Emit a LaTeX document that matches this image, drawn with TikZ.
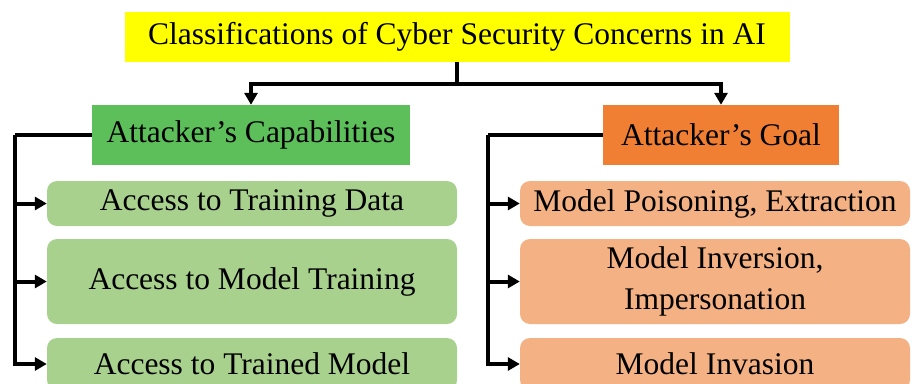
\documentclass[tikz,border=0pt]{standalone}
\usepackage{fontspec}
\setmainfont{Liberation Serif}
\usetikzlibrary{arrows.meta}
\definecolor{ttlY}{HTML}{FFFF00}
\definecolor{capG}{HTML}{5CBF5A}
\definecolor{subG}{HTML}{A9D18E}
\definecolor{goalO}{HTML}{F07F34}
\definecolor{subO}{HTML}{F4B183}
\tikzset{
  boxbase/.style={inner sep=0pt, align=center, font=\fontsize{31.5}{41}\selectfont, text=black},
  hdr/.style={boxbase, rectangle, minimum height=60pt},
  subbox/.style={boxbase, rectangle, rounded corners=10pt},
  conn/.style={line width=4pt, draw=black},
  arr/.style={conn, -{Triangle[length=12pt,width=13pt]}}
}
\begin{document}
\begin{tikzpicture}[x=1pt,y=-1pt]
\useasboundingbox (0,0) rectangle (912,383);
\node[boxbase, fill=ttlY, minimum width=665pt, minimum height=50pt] (title) at (457,37) {Classifications of Cyber Security Concerns in AI};
\node[hdr, fill=capG, minimum width=318pt] (cap) at (251,135) {Attacker’s Capabilities};
\node[hdr, fill=goalO, minimum width=236pt] (goal) at (721,135) {Attacker’s Goal};

\node[subbox, fill=subG, minimum width=410pt, minimum height=45pt] (c1) at (252,203.5) {Access to Training Data};
\node[subbox, fill=subG, minimum width=410pt, minimum height=85pt] (c2) at (252,281.5) {Access to Model Training};
\node[subbox, fill=subG, minimum width=410pt, minimum height=52pt] (c3) at (252,364) {Access to Trained Model};

\node[subbox, fill=subO, minimum width=390pt, minimum height=45pt] (g1) at (715,203.5) {Model Poisoning, Extraction};
\node[subbox, fill=subO, minimum width=390pt, minimum height=85pt] (g2) at (715,281.5) {Model Inversion,\\Impersonation};
\node[subbox, fill=subO, minimum width=390pt, minimum height=52pt] (g3) at (715,364) {Model Invasion};

\path (title.south) ++(0,22) coordinate (tm);
\draw[conn] (title.south) -- (tm);
\draw[arr] (tm) -| (cap.north);
\draw[arr] (tm) -| (goal.north);

\coordinate (lt) at (15,135);
\draw[conn] (cap.west) -- (lt);
\draw[arr] (lt) |- (c3.west);
\draw[arr] (lt |- c1.west) -- (c1.west);
\draw[arr] (lt |- c2.west) -- (c2.west);

\coordinate (rt) at (488,135);
\draw[conn] (goal.west) -- (rt);
\draw[arr] (rt) |- (g3.west);
\draw[arr] (rt |- g1.west) -- (g1.west);
\draw[arr] (rt |- g2.west) -- (g2.west);
\end{tikzpicture}
\end{document}
